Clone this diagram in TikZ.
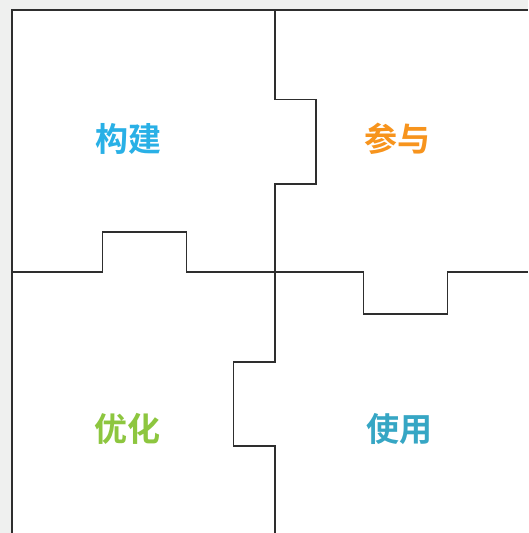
\documentclass[tikz,border=0pt]{standalone}
\usepackage{fontspec}
\newfontfamily\cjk{Noto Sans CJK SC}[BoldFont={Noto Sans CJK SC Bold}]
\usepackage{tikz}
\definecolor{bggray}{HTML}{EFF0EF}
\definecolor{edgegray}{HTML}{2E2E2E}
\definecolor{buildblue}{HTML}{29B0E6}
\definecolor{joinorange}{HTML}{F7941D}
\definecolor{tunegreen}{HTML}{8DC63F}
\definecolor{useteal}{HTML}{36A6C4}
\tikzset{
	piece/.style={draw=edgegray, line width=1.8pt},
	word/.style={font=\cjk\bfseries\fontsize{33}{33}\selectfont}
}

\begin{document}
\begin{tikzpicture}[x=1pt, y=-1pt]
		%%%%% START %%%%%
		\useasboundingbox (0, 0) rectangle (528, 533);
		\fill[bggray] (0, 0) rectangle (528, 533);
		\fill[white] (12, 10) rectangle (528, 533);
		\draw[piece] (12, 533) -- (12, 10) -- (528, 10);
		
		% top tab
		\draw[piece] (275, 10) -- (275, 99.5) -- (316, 99.5) -- (316, 184) -- (275, 184) -- (275, 272);
		% left tab
		\draw[piece] (12, 272) -- (102.5, 272) -- (102.5, 232) -- (186.5, 232) -- (186.5, 272) -- (275, 272);
		% right tab
		\draw[piece] (275, 272) -- (363.5, 272) -- (363.5, 314) -- (447.5, 314) -- (447.5, 272) -- (528, 272);
		% bottom tab
		\draw[piece] (275, 272) -- (275, 362) -- (233.5, 362) -- (233.5, 446) -- (275, 446) -- (275, 533);
		
		\node[word, text=buildblue] (build) at (128.5, 139) {构建};
		\node[word, text=joinorange] (join) at (397.5, 139) {参与};
		\node[word, text=tunegreen] (tune) at (127.5, 429) {优化};
		\node[word, text=useteal] (use) at (399.5, 429) {使用};
		%%%%% END %%%%%
	\end{tikzpicture}
\end{document}
